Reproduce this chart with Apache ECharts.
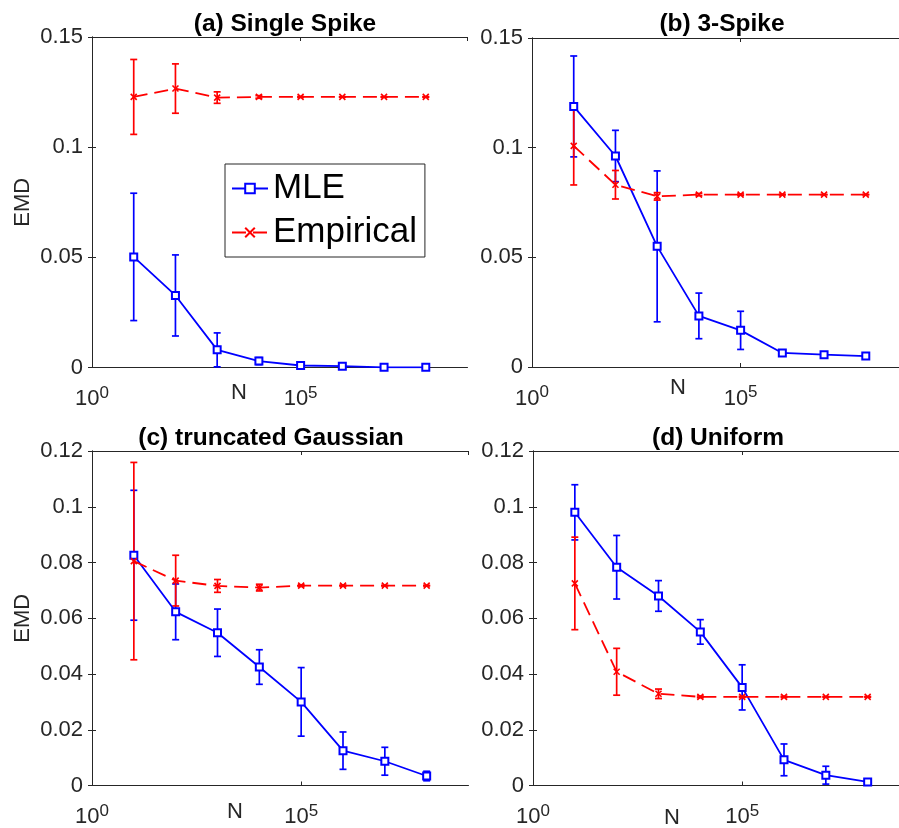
<!DOCTYPE html>
<html>
<head>
<meta charset="utf-8">
<script src="https://cdn.jsdelivr.net/npm/echarts@6/dist/echarts.min.js"></script>
<style>
html,body{margin:0;padding:0;background:#fff;overflow:hidden;width:899px;height:828px;}
#chart{width:920px;height:828px;}
</style>
</head>
<body>
<div id="chart"></div>
<script>
// ---- data ----
const sampleSizes = [1e1, 1e2, 1e3, 1e4, 1e5, 1e6, 1e7, 1e8];
const xTickExponents = [0, 5];
const panelTitles = ['(a) Single Spike', '(b) 3-Spike', '(c) truncated Gaussian', '(d) Uniform'];
const seriesNames = ['MLE', 'Empirical'];

const mleMeanA = [0.0502, 0.0327, 0.0080, 0.0029, 0.0009, 0.0006, 0.0001, 0.0001];
const mleErrA  = [0.0289, 0.0184, 0.0077, 0.0016, 0.0004, 0.0003, 0.0001, 0.0001];
const empMeanA = [0.1228, 0.1266, 0.1225, 0.1228, 0.1228, 0.1228, 0.1228, 0.1228];
const empErrA  = [0.0170, 0.0112, 0.0026, 0.0006, 0.0002, 0.0001, 0.0001, 0.0001];

const mleMeanB = [0.1188, 0.0962, 0.0550, 0.0233, 0.0167, 0.0064, 0.0056, 0.0050];
const mleErrB  = [0.0230, 0.0117, 0.0344, 0.0104, 0.0087, 0.0012, 0.0007, 0.0006];
const empMeanB = [0.1008, 0.0831, 0.0778, 0.0786, 0.0786, 0.0786, 0.0786, 0.0786];
const empErrB  = [0.0178, 0.0065, 0.0017, 0.0005, 0.0003, 0.0002, 0.0001, 0.0001];

const mleMeanC = [0.0826, 0.0623, 0.0548, 0.0425, 0.0300, 0.0125, 0.0087, 0.0034];
const mleErrC  = [0.0233, 0.0100, 0.0085, 0.0062, 0.0123, 0.0067, 0.0050, 0.0017];
const empMeanC = [0.0805, 0.0735, 0.0716, 0.0710, 0.0717, 0.0717, 0.0717, 0.0717];
const empErrC  = [0.0354, 0.0091, 0.0023, 0.0012, 0.0003, 0.0002, 0.0001, 0.0001];

const mleMeanD = [0.0980, 0.0783, 0.0680, 0.0551, 0.0352, 0.0092, 0.0037, 0.0013];
const mleErrD  = [0.0099, 0.0114, 0.0055, 0.0044, 0.0081, 0.0057, 0.0032, 0.0009];
const empMeanD = [0.0725, 0.0408, 0.0329, 0.0318, 0.0318, 0.0318, 0.0318, 0.0318];
const empErrD  = [0.0166, 0.0084, 0.0017, 0.0003, 0.0002, 0.0002, 0.0001, 0.0001];

const yMaxes = [0.15, 0.15, 0.12, 0.12];
const yIntervals = [0.05, 0.05, 0.02, 0.02];

// ---- layout / style ----
const panels = [
  {grid:{left:92, top:37, width:375.5, height:330.5}, title:[280, 7], nLabel:[239, 393], yName:true,
   mle:mleMeanA, mleE:mleErrA, emp:empMeanA, empE:empErrA},
  {grid:{left:532, top:38, width:375.5, height:329}, title:[717, 7], nLabel:[678, 388], yName:false,
   mle:mleMeanB, mleE:mleErrB, emp:empMeanB, empE:empErrB},
  {grid:{left:92, top:451, width:376.5, height:337}, title:[266, 421], nLabel:[235, 812], yName:true,
   mle:mleMeanC, mleE:mleErrC, emp:empMeanC, empE:empErrC},
  {grid:{left:533, top:451, width:376.5, height:338}, title:[713, 421], nLabel:[672, 818], yName:false,
   mle:mleMeanD, mleE:mleErrD, emp:empMeanD, empE:empErrD}
];

const FONT = 'Liberation Sans, Arial, Helvetica, sans-serif';
const AX = '#262626';
const BLUE = '#0000ff';
const RED = '#ff0000';
const XSYM = 'path://M0,0L10,10M0,10L10,0';

const grids = [], xAxes = [], yAxes = [], series = [], titles = [], graphics = [];

function errRenderer(color) {
  return function (params, api) {
    const x = api.value(0), lo = api.value(1), hi = api.value(2);
    const p1 = api.coord([x, lo]), p2 = api.coord([x, hi]);
    const w = 3.5;
    const st = {stroke: color, lineWidth: 1.7, fill: null};
    return {type: 'group', children: [
      {type: 'line', shape: {x1: p1[0], y1: p1[1], x2: p2[0], y2: p2[1]}, style: st},
      {type: 'line', shape: {x1: p1[0] - w, y1: p1[1], x2: p1[0] + w, y2: p1[1]}, style: st},
      {type: 'line', shape: {x1: p2[0] - w, y1: p2[1], x2: p2[0] + w, y2: p2[1]}, style: st}
    ]};
  };
}

const xs = sampleSizes.map(n => Math.log10(n));

panels.forEach((p, i) => {
  grids.push(Object.assign({containLabel: false}, p.grid));
  const xCommon = {
    type: 'value', gridIndex: i, min: 0, max: 9, interval: 5,
    axisLine: {show: true, onZero: false, lineStyle: {color: AX, width: 1}},
    axisTick: {show: true, inside: true, length: 4, lineStyle: {color: AX}},
    splitLine: {show: false}
  };
  xAxes.push(Object.assign({}, xCommon, {
    position: 'bottom',
    axisLabel: {
      show: true, margin: 17, color: AX, fontFamily: FONT,
      showMaxLabel: false,
      formatter: v => (xTickExponents.indexOf(v) >= 0 ? '{b|10}{s|' + v + '}' : ''),
      rich: {
        b: {fontSize: 22, color: AX, fontFamily: FONT},
        s: {fontSize: 17, color: AX, fontFamily: FONT, padding: [0, 0, 12, 0]}
      }
    }
  }));
  xAxes.push(Object.assign({}, xCommon, {position: 'top', axisLabel: {show: false}}));

  const yCommon = {
    type: 'value', gridIndex: i, min: 0, max: yMaxes[i], interval: yIntervals[i],
    axisLine: {show: true, lineStyle: {color: AX, width: 1}},
    axisTick: {show: true, inside: true, length: 4, lineStyle: {color: AX}},
    splitLine: {show: false}
  };
  yAxes.push(Object.assign({}, yCommon, {
    position: 'left',
    name: p.yName ? 'EMD' : '',
    nameLocation: 'middle', nameGap: 58, nameRotate: 90,
    nameTextStyle: {fontSize: 22, color: AX, fontFamily: FONT},
    axisLabel: {show: true, margin: 9, fontSize: 22, color: AX, fontFamily: FONT,
      formatter: v => String(+v.toFixed(4))}
  }));
  yAxes.push(Object.assign({}, yCommon, {position: 'right', axisLabel: {show: false}}));

  const xi = 2 * i, yi = 2 * i;
  series.push({
    type: 'custom', name: 'errMLE' + i, xAxisIndex: xi, yAxisIndex: yi, z: 2,
    renderItem: errRenderer(BLUE), silent: true,
    data: xs.map((x, k) => [x, p.mle[k] - p.mleE[k], p.mle[k] + p.mleE[k]]),
    encode: {x: 0, y: [1, 2]}
  });
  series.push({
    type: 'custom', name: 'errEmp' + i, xAxisIndex: xi, yAxisIndex: yi, z: 2,
    renderItem: errRenderer(RED), silent: true,
    data: xs.map((x, k) => [x, p.emp[k] - p.empE[k], p.emp[k] + p.empE[k]]),
    encode: {x: 0, y: [1, 2]}
  });
  series.push({
    type: 'line', name: seriesNames[0], xAxisIndex: xi, yAxisIndex: yi, z: 3,
    data: xs.map((x, k) => [x, p.mle[k]]),
    symbol: 'emptyRect', symbolSize: 7,
    lineStyle: {color: BLUE, width: 1.8, type: 'solid'},
    itemStyle: {color: BLUE, borderColor: BLUE, borderWidth: 1.6},
    showAllSymbol: true
  });
  series.push({
    type: 'line', name: seriesNames[1], xAxisIndex: xi, yAxisIndex: yi, z: 3,
    data: xs.map((x, k) => [x, p.emp[k]]),
    symbol: XSYM, symbolSize: 6,
    lineStyle: {color: RED, width: 1.8, type: [14, 7]},
    itemStyle: {color: RED, borderColor: RED, borderWidth: 1.6},
    showAllSymbol: true
  });

  titles.push({
    text: panelTitles[i], left: p.title[0], top: p.title[1], textAlign: 'center',
    textStyle: {fontSize: 24.5, fontWeight: 'bold', color: '#000', fontFamily: FONT}
  });
  graphics.push({
    type: 'text', x: p.nLabel[0], y: p.nLabel[1],
    style: {text: 'N', fontSize: 22, fill: AX, fontFamily: FONT, align: 'center', verticalAlign: 'middle'}
  });
});

const chart = echarts.init(document.getElementById('chart'), null, {renderer: 'canvas'});
chart.setOption({
  backgroundColor: '#ffffff',
  animation: false,
  title: titles,
  grid: grids,
  xAxis: xAxes,
  yAxis: yAxes,
  series: series,
  graphic: graphics,
  legend: {
    data: seriesNames,
    orient: 'vertical',
    left: 225, top: 164,
    padding: [7, 8, 7, 6],
    itemGap: 9,
    itemWidth: 36, itemHeight: 12,
    backgroundColor: '#fff',
    borderColor: AX, borderWidth: 1,
    textStyle: {fontSize: 35, color: '#000', fontFamily: FONT},
    selectedMode: false
  }
});
</script>
</body>
</html>
